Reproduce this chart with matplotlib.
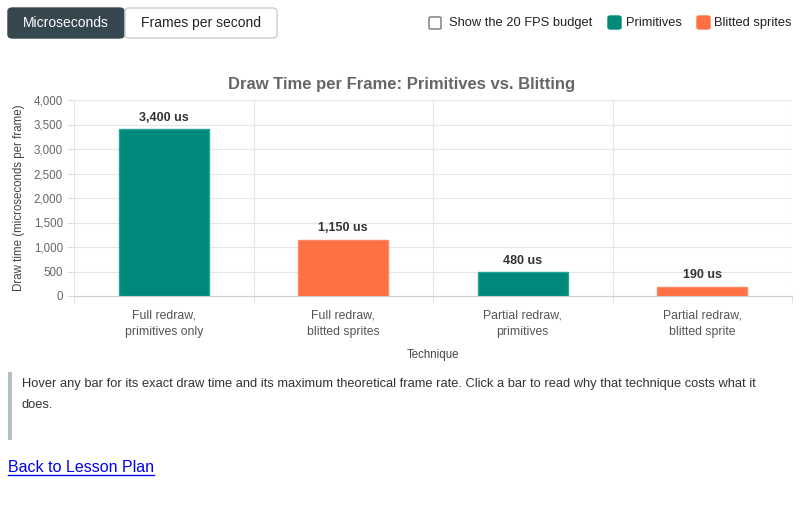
import matplotlib
matplotlib.use("Agg")
import matplotlib.pyplot as plt
from matplotlib.patches import FancyBboxPatch, Rectangle
from matplotlib.lines import Line2D

plt.rcParams['font.family'] = ['Liberation Sans', 'DejaVu Sans']

categories = ["Full redraw,\nprimitives only", "Full redraw,\nblitted sprites",
              "Partial redraw,\nprimitives", "Partial redraw,\nblitted sprite"]
values = [3400, 1150, 480, 190]
series = ["Primitives", "Blitted sprites", "Primitives", "Blitted sprites"]
value_labels = ["3,400 us", "1,150 us", "480 us", "190 us"]
yticks = [0, 500, 1000, 1500, 2000, 2500, 3000, 3500, 4000]

TEAL = "#00897B"
ORANGE = "#FF7043"
colors = {"Primitives": TEAL, "Blitted sprites": ORANGE}
edges = {"Primitives": "#26A69A", "Blitted sprites": "#FF8A65"}

W, H = 800, 520
fig = plt.figure(figsize=(W/100, H/100), dpi=100)

def fx(x): return x / W
def fy(y): return 1 - y / H

ax = fig.add_axes([fx(74), fy(296), fx(792) - fx(74), fy(100) - fy(296)])
x = list(range(len(categories)))
ax.bar(x, values, width=0.5, color=[colors[s] for s in series],
       edgecolor=[edges[s] for s in series], linewidth=1, zorder=3)
for xi, v, lab in zip(x, values, value_labels):
    ax.annotate(lab, (xi, v), xytext=(0, 4), textcoords="offset points",
                ha="center", va="bottom", fontsize=9, fontweight="bold", color="#333333")
ax.set_xlim(-0.5, len(categories) - 0.5)
ax.set_ylim(0, 4000)
ax.set_yticks(yticks)
ax.set_yticklabels([f"{t:,}" for t in yticks], fontsize=8.3, color="#666666")
ax.set_xticks(x)
ax.set_xticklabels(categories, fontsize=8.8, color="#555555", linespacing=1.5)
ax.tick_params(axis="x", length=0, pad=9.5)
ax.tick_params(axis="y", length=5, color="#dddddd", pad=3)
ax.set_xticks([i + 0.5 for i in range(-1, len(categories))], minor=True)
ax.tick_params(axis="x", which="minor", length=5, color="#dddddd")
ax.grid(axis="y", color="#e6e6e6", linewidth=0.8, zorder=0)
ax.grid(axis="x", which="minor", color="#e6e6e6", linewidth=0.8, zorder=0)
ax.grid(axis="x", which="major", visible=False)
for s in ["top", "right"]:
    ax.spines[s].set_visible(False)
ax.spines["left"].set_visible(False)
ax.spines["bottom"].set_color("#cccccc")
ax.set_ylabel("Draw time (microseconds per frame)", fontsize=8.3, color="#444444", labelpad=6)
ax.set_xlabel("Technique", fontsize=8.3, color="#444444", labelpad=8)
fig.text(fx(402), fy(84), "Draw Time per Frame: Primitives vs. Blitting", fontsize=12,
         fontweight="bold", color="#666666", ha="center", va="center")

# Buttons
fig.patches.append(FancyBboxPatch((fx(8), fy(38)), fx(116), fy(8) - fy(38),
                                  boxstyle="round,pad=0,rounding_size=0.006",
                                  transform=fig.transFigure, facecolor="#37474F",
                                  edgecolor="#37474F", linewidth=1))
fig.patches.append(FancyBboxPatch((fx(125), fy(38)), fx(152), fy(8) - fy(38),
                                  boxstyle="round,pad=0,rounding_size=0.006",
                                  transform=fig.transFigure, facecolor="white",
                                  edgecolor="#cccccc", linewidth=1))
fig.text(fx(66), fy(23), "Microseconds", fontsize=10, color="white", ha="center", va="center",
         fontweight="medium")
fig.text(fx(201), fy(23), "Frames per second", fontsize=10, color="#222222", ha="center", va="center")

# Legend / checkbox
fig.patches.append(FancyBboxPatch((fx(429), fy(29)), fx(12), fy(17) - fy(29),
                                  boxstyle="round,pad=0,rounding_size=0.002",
                                  transform=fig.transFigure, facecolor="white",
                                  edgecolor="#767676", linewidth=1))
fig.text(fx(449), fy(23), "Show the 20 FPS budget", fontsize=9.3, color="#222222", va="center")
fig.patches.append(FancyBboxPatch((fx(608), fy(29)), fx(13), fy(16) - fy(29),
                                  boxstyle="round,pad=0,rounding_size=0.003",
                                  transform=fig.transFigure, facecolor=TEAL, edgecolor=TEAL))
fig.text(fx(626), fy(23), "Primitives", fontsize=9.3, color="#222222", va="center")
fig.patches.append(FancyBboxPatch((fx(697), fy(29)), fx(13), fy(16) - fy(29),
                                  boxstyle="round,pad=0,rounding_size=0.003",
                                  transform=fig.transFigure, facecolor=ORANGE, edgecolor=ORANGE))
fig.text(fx(714), fy(23), "Blitted sprites", fontsize=9.3, color="#222222", va="center")

# Blockquote
fig.patches.append(Rectangle((fx(8), fy(440)), fx(4), fy(372) - fy(440),
                             transform=fig.transFigure, facecolor="#b0bec5", edgecolor="none"))
fig.text(fx(22), fy(384), "Hover any bar for its exact draw time and its maximum theoretical frame rate. "
         "Click a bar to read why that technique costs what it", fontsize=9.3, color="#333333", va="center")
fig.text(fx(22), fy(405), "does.", fontsize=9.3, color="#333333", va="center")

# Link
t = fig.text(fx(8), fy(467), "Back to Lesson Plan", fontsize=11.5, color="#0000EE", va="center")
fig.canvas.draw()
bb = t.get_window_extent()
fig.add_artist(Line2D([bb.x0 / W, bb.x1 / W], [fy(475), fy(475)], color="#0000EE",
                      linewidth=1, transform=fig.transFigure))

fig.savefig("out.png", dpi=100, facecolor="white")
